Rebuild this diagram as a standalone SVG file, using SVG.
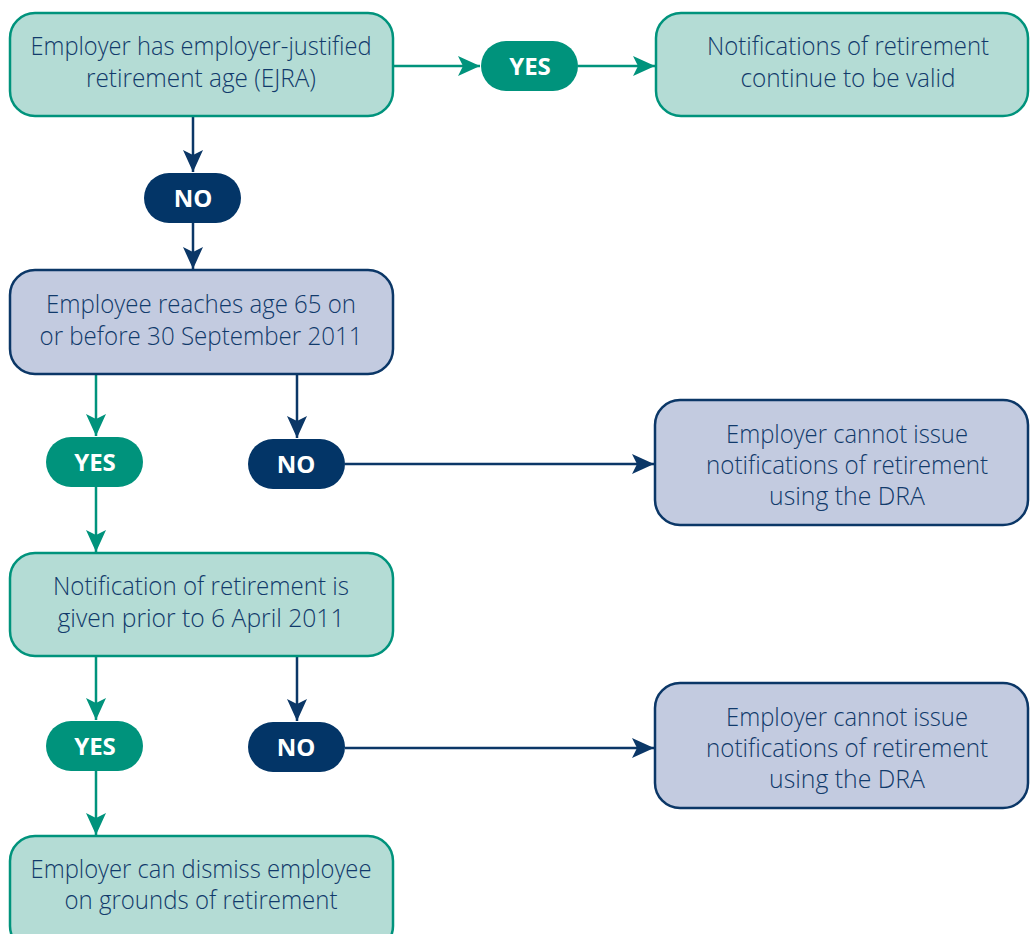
<svg xmlns="http://www.w3.org/2000/svg" width="1030" height="934" viewBox="0 0 1030 934">
<style>
.bg{fill:#ffffff}
.tbox{fill:#b4dcd5;stroke:#00937c;stroke-width:2.5}
.bbox{fill:#c3cbe0;stroke:#0b3767;stroke-width:2.5}
.txt{font-family:"Open Sans",Lato,"Liberation Sans",sans-serif;font-weight:300;font-size:25px;fill:#113a6b;text-anchor:middle}
.ypill{fill:#00937c}
.npill{fill:#033567}
.ptxt{font-family:"Open Sans","Liberation Sans",sans-serif;font-weight:bold;font-size:24px;fill:#ffffff;text-anchor:middle}
.ct{stroke:#00937c;stroke-width:2.5;fill:none}
.cb{stroke:#0b3767;stroke-width:2.5;fill:none}
</style>
<defs>
<marker id="at" markerUnits="userSpaceOnUse" markerWidth="24" markerHeight="22" refX="22" refY="10" orient="auto"><path d="M0,0 L22,10 L0,20 L5,10 z" fill="#00937c"/></marker>
<marker id="ab" markerUnits="userSpaceOnUse" markerWidth="24" markerHeight="22" refX="22" refY="10" orient="auto"><path d="M0,0 L22,10 L0,20 L5,10 z" fill="#0b3767"/></marker>
</defs>
<rect class="bg" x="0" y="0" width="1030" height="934"/>
<g id="connectors">
<line class="ct" x1="393" y1="66" x2="480" y2="66" marker-end="url(#at)"/>
<line class="ct" x1="578" y1="66" x2="655" y2="66" marker-end="url(#at)"/>
<line class="cb" x1="193" y1="116" x2="193" y2="172" marker-end="url(#ab)"/>
<line class="cb" x1="193" y1="222" x2="193" y2="269" marker-end="url(#ab)"/>
<line class="ct" x1="96" y1="374" x2="96" y2="436" marker-end="url(#at)"/>
<line class="cb" x1="297" y1="374" x2="297" y2="438" marker-end="url(#ab)"/>
<line class="ct" x1="96" y1="487" x2="96" y2="552" marker-end="url(#at)"/>
<line class="cb" x1="345" y1="464" x2="654" y2="464" marker-end="url(#ab)"/>
<line class="ct" x1="96" y1="656" x2="96" y2="720" marker-end="url(#at)"/>
<line class="cb" x1="297" y1="656" x2="297" y2="721" marker-end="url(#ab)"/>
<line class="ct" x1="96" y1="771" x2="96" y2="835" marker-end="url(#at)"/>
<line class="cb" x1="345" y1="748" x2="654" y2="748" marker-end="url(#ab)"/>
</g>
<g id="n1">
<rect class="tbox" x="10" y="13" width="383" height="103" rx="25"/>
<text class="txt" x="201" y="55" textLength="341" lengthAdjust="spacingAndGlyphs">Employer has employer-justified</text>
<text class="txt" x="201" y="87" textLength="230" lengthAdjust="spacingAndGlyphs">retirement age (EJRA)</text>
</g>
<g id="yes1"><rect class="ypill" x="481" y="41" width="97" height="50" rx="25"/><text class="ptxt" x="530" y="75">YES</text></g>
<g id="n2">
<rect class="tbox" x="656" y="13" width="372" height="103" rx="25"/>
<text class="txt" x="848" y="55" textLength="282" lengthAdjust="spacingAndGlyphs">Notifications of retirement</text>
<text class="txt" x="848" y="87" textLength="215" lengthAdjust="spacingAndGlyphs">continue to be valid</text>
</g>
<g id="no1"><rect class="npill" x="144" y="173" width="97" height="50" rx="25"/><text class="ptxt" x="193" y="207">NO</text></g>
<g id="n3">
<rect class="bbox" x="10" y="270" width="383" height="104" rx="25"/>
<text class="txt" x="201" y="313" textLength="310" lengthAdjust="spacingAndGlyphs">Employee reaches age 65 on</text>
<text class="txt" x="201" y="345" textLength="323" lengthAdjust="spacingAndGlyphs">or before 30 September 2011</text>
</g>
<g id="yes2"><rect class="ypill" x="46" y="437" width="97" height="50" rx="25"/><text class="ptxt" x="95" y="471">YES</text></g>
<g id="no2"><rect class="npill" x="248" y="439" width="97" height="50" rx="25"/><text class="ptxt" x="296" y="473">NO</text></g>
<g id="n5">
<rect class="bbox" x="655" y="400" width="373" height="125" rx="25"/>
<text class="txt" x="847" y="443" textLength="242" lengthAdjust="spacingAndGlyphs">Employer cannot issue</text>
<text class="txt" x="847" y="474" textLength="282" lengthAdjust="spacingAndGlyphs">notifications of retirement</text>
<text class="txt" x="847" y="505" textLength="156" lengthAdjust="spacingAndGlyphs">using the DRA</text>
</g>
<g id="n4">
<rect class="tbox" x="10" y="553" width="383" height="103" rx="25"/>
<text class="txt" x="201" y="595" textLength="296" lengthAdjust="spacingAndGlyphs">Notification of retirement is</text>
<text class="txt" x="201" y="627" textLength="287" lengthAdjust="spacingAndGlyphs">given prior to 6 April 2011</text>
</g>
<g id="yes3"><rect class="ypill" x="46" y="721" width="97" height="50" rx="25"/><text class="ptxt" x="95" y="755">YES</text></g>
<g id="no3"><rect class="npill" x="248" y="722" width="97" height="50" rx="25"/><text class="ptxt" x="296" y="756">NO</text></g>
<g id="n6">
<rect class="bbox" x="655" y="683" width="373" height="125" rx="25"/>
<text class="txt" x="847" y="726" textLength="242" lengthAdjust="spacingAndGlyphs">Employer cannot issue</text>
<text class="txt" x="847" y="757" textLength="282" lengthAdjust="spacingAndGlyphs">notifications of retirement</text>
<text class="txt" x="847" y="788" textLength="156" lengthAdjust="spacingAndGlyphs">using the DRA</text>
</g>
<g id="n7">
<rect class="tbox" x="10" y="836" width="383" height="115" rx="25"/>
<text class="txt" x="201" y="878" textLength="341" lengthAdjust="spacingAndGlyphs">Employer can dismiss employee</text>
<text class="txt" x="201" y="909" textLength="273" lengthAdjust="spacingAndGlyphs">on grounds of retirement</text>
</g>
</svg>
